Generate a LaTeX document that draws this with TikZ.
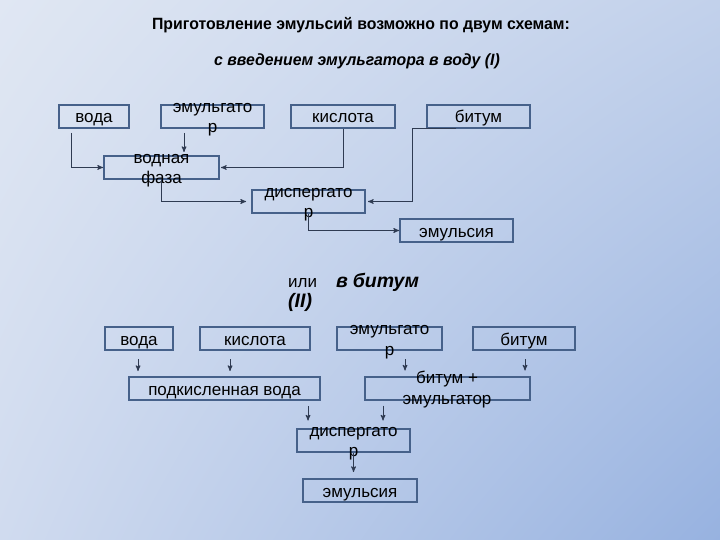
\documentclass[tikz,border=0pt]{standalone}
\usepackage{fontspec}
\setmainfont{Liberation Sans}
\newfontfamily\narrowfont[FakeStretch=0.97]{Liberation Sans}
\usepackage{xcolor}
\definecolor{bgTopLeft}{HTML}{E0E7F3}
\definecolor{bgTopRight}{HTML}{C2D1EB}
\definecolor{bgBottomLeft}{HTML}{D0DBEF}
\definecolor{bgBottomRight}{HTML}{97B2E0}
\definecolor{colorBox}{HTML}{46618A}
\definecolor{colorLink}{HTML}{2F3B52}
\usetikzlibrary{arrows, positioning, shadings}
\tikzset{box/.style={draw=colorBox, line width=2pt, minimum height=23pt, inner sep=0pt, text height=16.5pt, text depth=3.5pt, font=\fontsize{17}{20.5}\selectfont},
  boxtext/.style={align=center, inner sep=0pt, anchor=base, font=\fontsize{17}{20.5}\selectfont}}

\begin{document}
\begin{tikzpicture}[x=1pt, y=-1pt, >=stealth', link/.style={->, colorLink, line width=1pt}]
\shade[upper left=bgTopLeft, upper right=bgTopRight, lower left=bgBottomLeft, lower right=bgBottomRight] (0,0) rectangle (720,540);
\node[anchor=base, font=\narrowfont\bfseries\fontsize{16.3}{18}\selectfont] (title) at (361,30) {Приготовление эмульсий возможно по двум схемам:};
\node[anchor=base, font=\narrowfont\bfseries\itshape\fontsize{16.3}{18}\selectfont] (schemeI) at (357,66) {с введением эмульгатора в воду (I)};
\node[box, minimum width=70] (vodaI) at (94,116.5) {вода};
\node[box, minimum width=103] (emulI) at (212.5,116.5) {};
\node[boxtext] (emulI-t) at (212.5,133) {эмульгато\\р};
\node[box, minimum width=104] (kislI) at (343,116.5) {кислота};
\node[box, minimum width=103] (bitI) at (478.5,116.5) {битум};
\node[box, minimum width=115] (vodfazI) at (161.5,167.5) {};
\node[boxtext] (vodfazI-t) at (161.5,184) {водная\\фаза};
\node[box, minimum width=113] (dispI) at (308.5,201.5) {};
\node[boxtext] (dispI-t) at (308.5,218) {диспергато\\р};
\node[box, minimum width=113] (emsI) at (456.5,230.5) {эмульсия};
\draw[link, shorten <=4pt] ([xshift=-23pt]vodaI.south) |- (vodfazI.west);
\draw[link, shorten <=4pt, shorten >=3pt] ([xshift=-28.5pt]emulI.south) -- ([xshift=22.5pt]vodfazI.north);
\draw[link, shorten >=1pt] (kislI.south) |- (vodfazI.east);
\draw[link, shorten >=5pt] (vodfazI.south) |- (dispI.west);
\draw[link, shorten >=2pt] ([xshift=30pt]bitI.south west) -- ++(-44,0) |- (dispI.east);
\draw[link] (dispI.south) |- (emsI.west);
\node[anchor=base west, align=left, inner sep=0pt, font=\fontsize{17}{17}\selectfont] (schemeII) at (288,307) {или\hspace{19pt}{\fontsize{19.5}{17}\selectfont\textbf{\textit{в\hspace{5pt}битум}}}\\{\fontsize{19.5}{17}\selectfont\textbf{\textit{(II)}}}};
\node[box, minimum width=68] (vodaII) at (139,338.5) {вода};
\node[box, minimum width=110] (kislII) at (255,338.5) {кислота};
\node[box, minimum width=105] (emulII) at (389.5,338.5) {};
\node[boxtext] (emulII-t) at (389.5,355) {эмульгато\\р};
\node[box, minimum width=102] (bitII) at (524,338.5) {битум};
\node[box, minimum width=191] (podkII) at (224.5,388.5) {подкисленная вода};
\node[box, minimum width=165] (bitemII) at (447.5,388) {};
\node[boxtext] (bitemII-t) at (447,404) {битум +\\эмульгатор};
\node[box, minimum width=113] (dispII) at (353.5,440) {};
\node[boxtext] (dispII-t) at (353.5,456.5) {диспергато\\р};
\node[box, minimum width=114] (emsII) at (360,490.5) {эмульсия};
\draw[link, shorten <=8pt, shorten >=5pt] ([xshift=-1pt]vodaII.south) -- ([xshift=-1pt]vodaII.south |- podkII.north);
\draw[link, shorten <=8pt, shorten >=5pt] ([xshift=-25pt]kislII.south) -- ([xshift=-25pt]kislII.south |- podkII.north);
\draw[link, shorten <=8pt, shorten >=5pt] ([xshift=15.5pt]emulII.south) -- ([xshift=15.5pt]emulII.south |- bitemII.north);
\draw[link, shorten <=8pt, shorten >=5pt] ([xshift=1pt]bitII.south) -- ([xshift=1pt]bitII.south |- bitemII.north);
\draw[link, shorten <=5pt, shorten >=7pt] ([xshift=83.5pt]podkII.south) -- ([xshift=83.5pt]podkII.south |- dispII.north);
\draw[link, shorten <=5pt, shorten >=7pt] ([xshift=-64.5pt]bitemII.south) -- ([xshift=-64.5pt]bitemII.south |- dispII.north);
\draw[link, shorten >=6pt] (dispII.south) -- (dispII.south |- emsII.north);
\end{tikzpicture}
\end{document}
